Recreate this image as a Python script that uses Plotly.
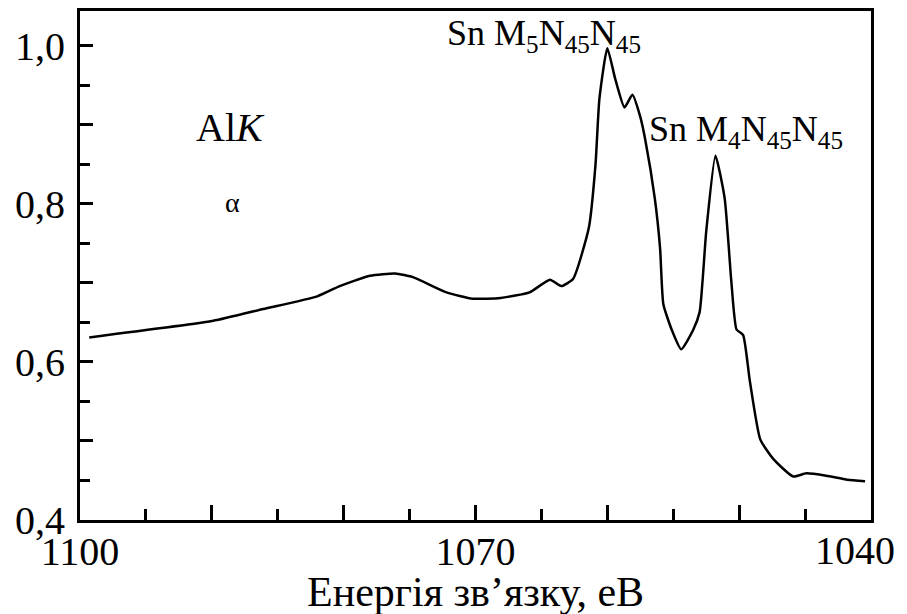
import plotly.graph_objects as go

# Binding energy (eV) and normalized intensity
energy = [1099.3, 1089.9, 1086.1, 1082.0, 1080.3, 1078.0, 1076.1, 1074.7, 1072.2, 1070.2,
          1068.1, 1065.9, 1064.35, 1063.5, 1062.6, 1061.4, 1060.9, 1060.6, 1060.0, 1059.4,
          1058.7, 1058.1, 1057.5, 1057.1, 1056.4, 1056.0, 1055.75, 1055.1, 1054.4, 1053.5,
          1053.0, 1052.5, 1051.8, 1051.1, 1050.6, 1050.2, 1049.7, 1049.2, 1048.4, 1047.4,
          1045.9, 1044.9, 1043.4, 1041.8, 1040.45]
intensity = [0.631, 0.652, 0.667, 0.683, 0.696, 0.709, 0.712, 0.707, 0.688, 0.680,
             0.681, 0.688, 0.704, 0.696, 0.705, 0.770, 0.849, 0.933, 0.997, 0.958,
             0.922, 0.938, 0.910, 0.879, 0.807, 0.744, 0.673, 0.640, 0.616, 0.640,
             0.663, 0.765, 0.861, 0.807, 0.703, 0.641, 0.634, 0.577, 0.502, 0.477,
             0.455, 0.459, 0.456, 0.451, 0.449]

x_tickvals = [1100, 1090, 1080, 1070, 1060, 1050, 1040]
x_ticktext = ["1100", "", "", "1070", "", "", ""]
x_last_label = "1040"   # drawn separately so it is not hidden at the page edge
x_minor = [1095, 1085, 1075, 1065, 1055, 1045]
y_tickvals = [0.4, 0.5, 0.6, 0.7, 0.8, 0.9, 1.0]
y_ticktext = ["0,4", "", "0,6", "", "0,8", "", "1,0"]
y_minor = [0.45, 0.55, 0.65, 0.75, 0.85, 0.95]
x_title = "Енергія зв’язку, еВ"

FONT = "'Liberation Serif', 'DejaVu Serif', serif"

fig = go.Figure()
fig.add_trace(go.Scatter(x=energy, y=intensity, mode="lines",
                         line=dict(color="black", width=2.5, shape="spline", smoothing=0.5),
                         hoverinfo="skip", showlegend=False))

fig.update_layout(
    width=907, height=614,
    margin=dict(l=80, r=36, t=8, b=94),
    paper_bgcolor="white", plot_bgcolor="white",
    font=dict(family=FONT, color="black", size=40),
    showlegend=False,
)
fig.update_xaxes(
    range=[1100, 1040], showgrid=False, zeroline=False,
    showline=True, linecolor="black", linewidth=3, mirror=True,
    ticks="inside", ticklen=15, tickwidth=2.5, tickcolor="black",
    tickvals=x_tickvals, ticktext=x_ticktext,
    tickfont=dict(family=FONT, size=40, color="black"),
    ticklabelstandoff=-6,
    minor=dict(tickvals=x_minor, ticks="inside", ticklen=11, tickwidth=2.5, tickcolor="black"),
)
fig.update_yaxes(
    range=[0.4, 1.044], showgrid=False, zeroline=False,
    showline=True, linecolor="black", linewidth=3, mirror=True,
    ticks="inside", ticklen=13, tickwidth=2.5, tickcolor="black",
    tickvals=y_tickvals, ticktext=y_ticktext,
    tickfont=dict(family=FONT, size=40, color="black"),
    ticklabelstandoff=4,
    minor=dict(tickvals=y_minor, ticks="inside", ticklen=10, tickwidth=2.5, tickcolor="black"),
)

ann_font = dict(family=FONT, size=36, color="black")
fig.add_annotation(x=1072.3, y=1.044, xref="x", yref="y", xanchor="left", yanchor="top",
                   text="Sn M<sub>5</sub>N<sub>45</sub>N<sub>45</sub>", showarrow=False, font=ann_font)
fig.add_annotation(x=1057.0, y=0.922, xref="x", yref="y", xanchor="left", yanchor="top",
                   text="Sn M<sub>4</sub>N<sub>45</sub>N<sub>45</sub>", showarrow=False, font=ann_font)
fig.add_annotation(x=1088.55, y=0.9275, xref="x", yref="y", xanchor="center", yanchor="top",
                   text="Al<i>K</i>", showarrow=False, font=dict(family=FONT, size=40, color="black"))
fig.add_annotation(x=1088.4, y=0.802, xref="x", yref="y", xanchor="center", yanchor="middle",
                   text="α", showarrow=False, font=dict(family=FONT, size=28, color="black"))
fig.add_annotation(x=0.5, y=-0.141, xref="paper", yref="paper", xanchor="center", yanchor="middle",
                   text=x_title, showarrow=False, font=dict(family=FONT, size=42, color="black"))
fig.add_annotation(x=1040, y=0, xref="x", yref="paper", xanchor="right", yanchor="top",
                   xshift=26, yshift=-6, text=x_last_label, showarrow=False,
                   font=dict(family=FONT, size=40, color="black"))

fig.write_html("out.html", config={"displayModeBar": False},
               post_script="document.body.style.margin='0';document.body.style.overflow='hidden';")
